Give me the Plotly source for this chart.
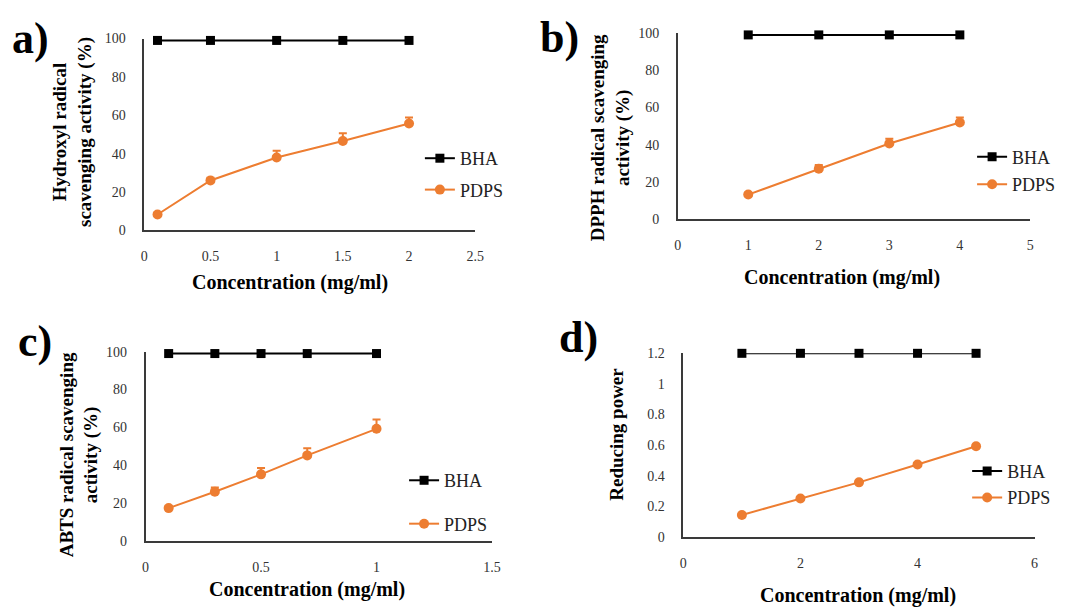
import plotly.graph_objects as go

# ---------------- data ----------------
a_x = [0.1, 0.5, 1, 1.5, 2]
a_bha = [99, 99, 99, 99, 99]
a_pdps = [8.3, 26.0, 38.0, 46.6, 55.7]
a_err = [1.0, 1.5, 3.5, 4.0, 3.2]

b_x = [1, 2, 3, 4]
b_bha = [99, 99, 99, 99]
b_pdps = [13.3, 27.2, 40.7, 52.0]
b_err = [1.0, 2.0, 2.6, 2.7]

c_x = [0.1, 0.3, 0.5, 0.7, 1]
c_bha = [99, 99, 99, 99, 99]
c_pdps = [17.5, 26.1, 35.3, 45.3, 59.3]
c_err = [1.0, 2.2, 3.3, 3.8, 4.9]

d_x = [1, 2, 3, 4, 5]
d_bha = [1.2, 1.2, 1.2, 1.2, 1.2]
d_pdps = [0.144, 0.251, 0.357, 0.474, 0.593]
d_err = [0.008, 0.01, 0.01, 0.01, 0.012]

panel_labels = ["a)", "b)", "c)", "d)"]
y_titles = ["Hydroxyl radical<br>scavenging activity (%)",
            "DPPH radical scavenging<br>activity (%)",
            "ABTS radical scavenging<br>activity (%)",
            "Reducing power"]
x_title = "Concentration (mg/ml)"

W, H = 1070, 613
ORANGE = "#ED7D31"
SERIF = "Liberation Serif"

def px(x):
    return x / W

def py(y):
    return 1 - y / H

panels = [
    dict(x=a_x, bha=a_bha, pdps=a_pdps, err=a_err, xr=[0, 2.5], xd=0.5, yr=[0, 100], yd=20,
         dom=(142, 477, 32.3, 229), leg=(421, 171.2, 5), ytitle=(70, 128), xtitle=(290, 282),
         lab=(27, 32)),
    dict(x=b_x, bha=b_bha, pdps=b_pdps, err=b_err, xr=[0, 5], xd=1, yr=[0, 100], yd=20,
         dom=(682, 1039, 26.7, 217.7), leg=(980, 167.7, 1), ytitle=(614, 134), xtitle=(848, 277),
         lab=(562, 31)),
    dict(x=c_x, bha=c_bha, pdps=c_pdps, err=c_err, xr=[0, 1.5], xd=0.5, yr=[0, 100], yd=20,
         dom=(143.3, 494, 353.3, 547.7), leg=(405, 507.5, 17), ytitle=(76.5, 459), xtitle=(307, 597),
         lab=(31, 343)),
    dict(x=d_x, bha=d_bha, pdps=d_pdps, err=d_err, xr=[0, 6], xd=2, yr=[0, 1.2], yd=0.2,
         dom=(687.7, 1043.3, 355, 543.3), leg=(975, 489.3, 0), ytitle=(620, 438), xtitle=(865, 603),
         lab=(582, 339)),
]

fig = go.Figure()
annotations = []
layout = {}

for i, p in enumerate(panels):
    n = i + 1
    xa = "x" if n == 1 else f"x{n}"
    ya = "y" if n == 1 else f"y{n}"
    leg = "legend" if n == 1 else f"legend{n}"
    fig.add_trace(go.Scatter(
        x=p["x"], y=p["bha"], name="BHA", mode="lines+markers",
        line=dict(color="black", width=2),
        marker=dict(symbol="square", size=9, color="black"),
        xaxis=xa, yaxis=ya, legend=leg, legendgroup=f"bha{n}", cliponaxis=False))
    fig.add_trace(go.Scatter(
        x=p["x"], y=p["pdps"], name="PDPS", mode="lines+markers",
        line=dict(color=ORANGE, width=2),
        marker=dict(symbol="circle", size=10, color=ORANGE),
        error_y=dict(type="data", symmetric=False, array=p["err"], arrayminus=[0] * len(p["err"]),
                     color=ORANGE, thickness=2, width=4),
        xaxis=xa, yaxis=ya, legend=leg, legendgroup=f"pdps{n}", cliponaxis=False))

    x0, x1, y0, y1 = p["dom"]
    axcommon = dict(showgrid=False, zeroline=False, showline=True, linecolor="#3a3a3a",
                    linewidth=1.5, ticks="", tickfont=dict(family=SERIF, size=14, color="#333"),
                    fixedrange=True)
    layout[f"xaxis{'' if n == 1 else n}"] = dict(
        domain=[px(x0), px(x1)], range=p["xr"], dtick=p["xd"], tick0=0,
        anchor=ya, ticklabelstandoff=12, **axcommon)
    layout[f"yaxis{'' if n == 1 else n}"] = dict(
        domain=[py(y1), py(y0)], range=p["yr"], dtick=p["yd"], tick0=0,
        anchor=xa, ticklabelstandoff=14, **axcommon)
    lx, ly, gap = p["leg"]
    layout[leg] = dict(x=px(lx), y=py(ly), xanchor="left", yanchor="middle",
                       bgcolor="rgba(0,0,0,0)", font=dict(family=SERIF, size=18, color="#222"),
                       tracegroupgap=gap, traceorder="grouped", itemwidth=30)

    tx, ty = p["ytitle"]
    annotations.append(dict(text="<b>" + y_titles[i].replace("<br>", "</b><br><b>") + "</b>",
                            x=px(tx), y=py(ty), xref="paper", yref="paper",
                            showarrow=False, textangle=-90, xanchor="center", yanchor="middle",
                            font=dict(family=SERIF, size=19, color="black")))
    tx, ty = p["xtitle"]
    annotations.append(dict(text=f"<b>{x_title}</b>", x=px(tx), y=py(ty), xref="paper", yref="paper",
                            showarrow=False, xanchor="center", yanchor="middle",
                            font=dict(family=SERIF, size=20, color="black")))
    lx, ly = p["lab"]
    annotations.append(dict(text=f"<b>{panel_labels[i]}</b>", x=px(lx), y=py(ly), xref="paper",
                            yref="paper", showarrow=False, xanchor="center", yanchor="middle",
                            font=dict(family=SERIF, size=44, color="black")))

fig.update_layout(
    width=W, height=H, margin=dict(l=0, r=0, t=0, b=0),
    paper_bgcolor="white", plot_bgcolor="white",
    annotations=annotations, **layout)

fig.write_html("out.html", post_script="document.body.style.margin='0';",
               config={"displayModeBar": False})
